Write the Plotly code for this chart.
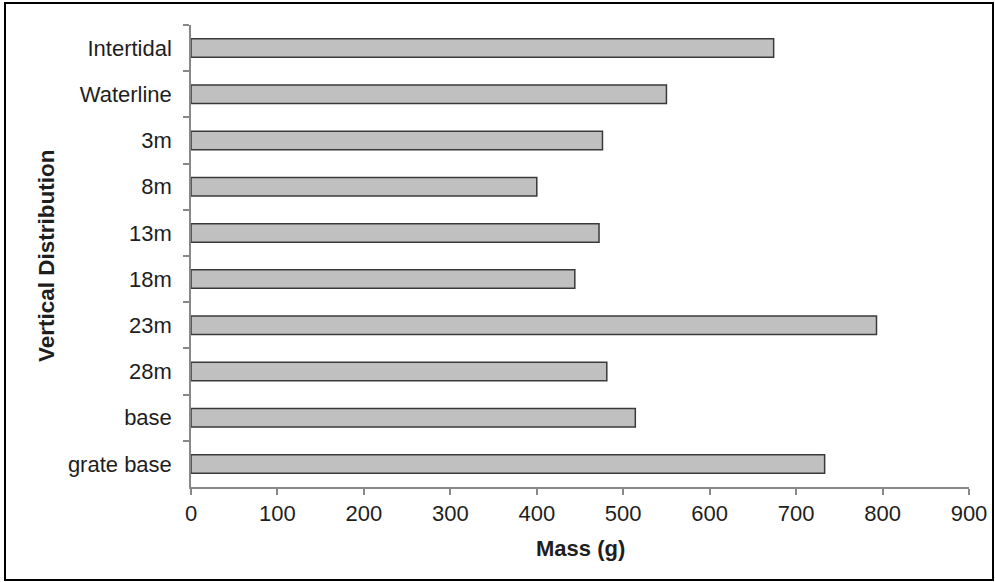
import plotly.graph_objects as go

categories = ["Intertidal", "Waterline", "3m", "8m", "13m", "18m", "23m", "28m", "base", "grate base"]
mass_g = [674, 550, 476, 400, 472, 444, 793, 481, 514, 733]
x_ticks = [0, 100, 200, 300, 400, 500, 600, 700, 800, 900]

FONT = "Liberation Sans, Arial, sans-serif"
TXT = "#1e1e1e"

fig = go.Figure()
fig.add_trace(go.Bar(
    y=categories, x=mass_g, orientation="h", width=0.4,
    marker=dict(color="#c0c0c0", line=dict(color="#3a3a3a", width=1.5)),
))

L, R, T, B = 191, 26, 25, 95
W, H = 995, 582
pw, ph = W - L - R, H - T - B

fig.update_layout(
    width=W, height=H,
    margin=dict(l=L, r=R, t=T, b=B, autoexpand=False),
    paper_bgcolor="white", plot_bgcolor="white",
    showlegend=False,
    font=dict(family=FONT, size=22, color=TXT),
    xaxis=dict(
        range=[0, 900], tickvals=x_ticks, ticktext=[str(v) for v in x_ticks],
        automargin=False,
        showgrid=False, zeroline=False, showline=True, linecolor="#888888", linewidth=1.5,
        ticks="outside", ticklen=6, tickcolor="#888888", tickwidth=1.5,
        ticklabelstandoff=0,
        tickfont=dict(family=FONT, size=22, color=TXT),
    ),
    yaxis=dict(
        type="category", categoryorder="array", categoryarray=categories,
        autorange=False, range=[9.5, -0.5], automargin=False,
        showgrid=False, zeroline=False, showline=True, linecolor="#888888", linewidth=1.5,
        ticks="outside", tickson="boundaries", ticklen=6, tickcolor="#888888", tickwidth=1.5,
        ticklabelstandoff=13,
        tickfont=dict(family=FONT, size=22, color=TXT),
    ),
)

fig.add_annotation(
    text="<b>Vertical Distribution</b>", textangle=-90,
    xref="paper", yref="paper", x=(46 - L) / pw, y=0.5,
    xanchor="center", yanchor="middle", showarrow=False,
    font=dict(family=FONT, size=22.5, color=TXT),
)
fig.add_annotation(
    text="<b>Mass (g)</b>",
    xref="paper", yref="paper", x=0.5, y=(T + ph - 548) / ph,
    xanchor="center", yanchor="middle", showarrow=False,
    font=dict(family=FONT, size=22, color=TXT),
)

fig.add_shape(
    type="rect", xref="paper", yref="paper",
    x0=(5 - L) / pw, x1=(993 - L) / pw,
    y0=(T + ph - 580) / ph, y1=(T + ph - 3) / ph,
    line=dict(color="black", width=2), fillcolor="rgba(0,0,0,0)", layer="below",
)

fig.write_html(
    "out.html",
    config={"displayModeBar": False},
    post_script="document.body.style.margin='0';document.body.style.overflow='hidden';",
)
